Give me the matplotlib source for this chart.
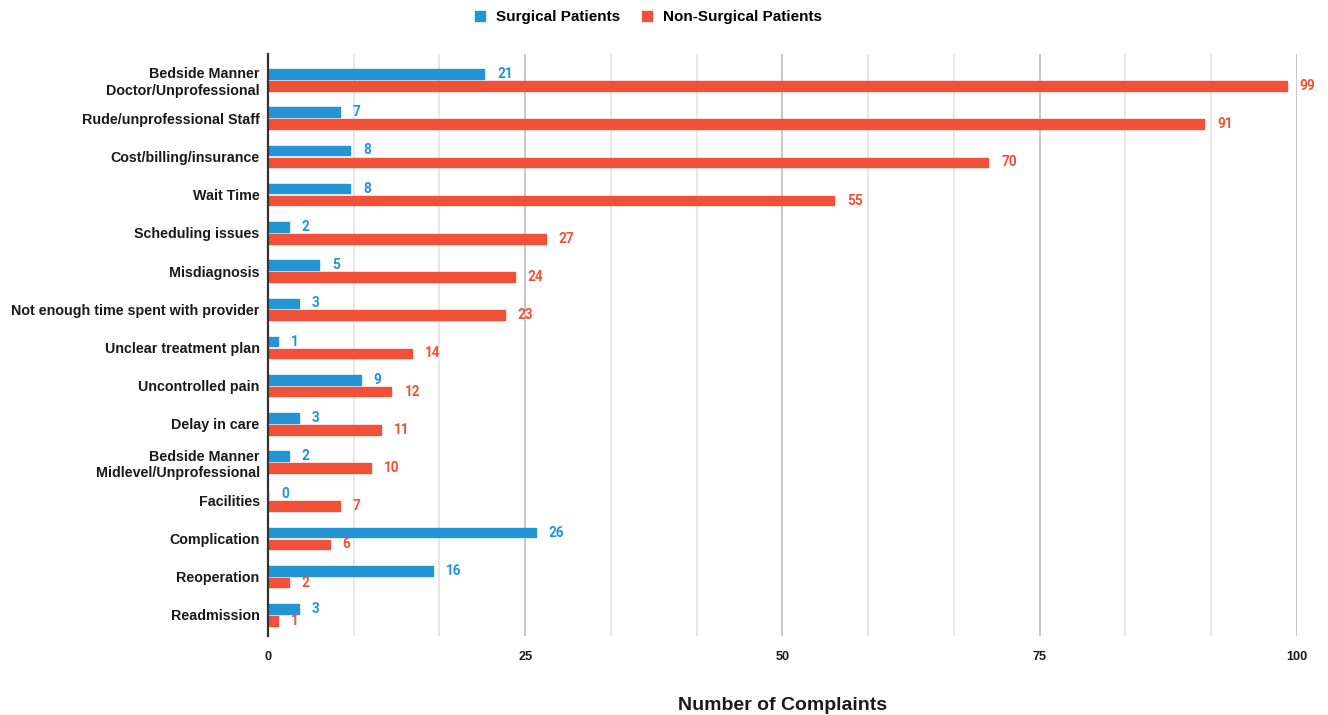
import numpy as np
import matplotlib
matplotlib.use("Agg")
import matplotlib.pyplot as plt
from matplotlib.lines import Line2D

CATEGORIES = [
    "Bedside Manner\nDoctor/Unprofessional",
    "Rude/unprofessional Staff",
    "Cost/billing/insurance",
    "Wait Time",
    "Scheduling issues",
    "Misdiagnosis",
    "Not enough time spent with provider",
    "Unclear treatment plan",
    "Uncontrolled pain",
    "Delay in care",
    "Bedside Manner\nMidlevel/Unprofessional",
    "Facilities",
    "Complication",
    "Reoperation",
    "Readmission",
]
SURGICAL = [21, 7, 8, 8, 2, 5, 3, 1, 9, 3, 2, 0, 26, 16, 3]
NON_SURGICAL = [99, 91, 70, 55, 27, 24, 23, 14, 12, 11, 10, 7, 6, 2, 1]
X_TICKS = [0, 25, 50, 75, 100]

BLUE = "#2394d4"
RED = "#f05138"
LABEL_FONT = "Liberation Sans"
VALUE_FONT = "Roboto"

fig = plt.figure(figsize=(13.28, 7.15), dpi=100)
ax = fig.add_axes([0.2018, 0.1105, 0.7748, 0.814])

y = np.arange(len(CATEGORIES))
h = 0.25
off = 0.155
bar_kw = dict(height=h, linewidth=1, joinstyle="round", zorder=3)
ax.barh(y - off, SURGICAL, color=BLUE, edgecolor=BLUE, **bar_kw)
ax.barh(y + off, NON_SURGICAL, color=RED, edgecolor=RED, **bar_kw)

# value labels just past each bar end
for yi, v in zip(y, SURGICAL):
    ax.annotate(str(v), (v, yi - off), xytext=(13, 0), textcoords="offset pixels",
                va="center", ha="left", color=BLUE, fontsize=9.8,
                fontweight="bold", family=VALUE_FONT, clip_on=False)
for yi, v in zip(y, NON_SURGICAL):
    ax.annotate(str(v), (v, yi + off), xytext=(13, 0), textcoords="offset pixels",
                va="center", ha="left", color=RED, fontsize=9.8,
                fontweight="bold", family=VALUE_FONT, clip_on=False)

ax.set_xlim(0, 100)
ax.set_ylim(14.55, -0.68)
ax.set_yticks(y)
ax.set_yticklabels(CATEGORIES, fontsize=10.3, fontweight="bold", family=LABEL_FONT,
                   color="#1a1a1a", linespacing=1.2)
ax.set_xticks(X_TICKS)
ax.set_xticklabels([str(t) for t in X_TICKS], fontsize=9.2, fontweight="bold",
                   family=LABEL_FONT, color="#1a1a1a")
ax.set_xticks(np.arange(0, 100.01, 25 / 3), minor=True)
ax.tick_params(axis="both", which="both", length=0)
ax.tick_params(axis="x", pad=11)
ax.tick_params(axis="y", pad=6)

ax.grid(axis="x", which="minor", color="#e3e3e3", linewidth=1.2, zorder=0)
ax.grid(axis="x", which="major", color="#c8c8c8", linewidth=1.4, zorder=0)
ax.grid(axis="y", visible=False)

for side in ("top", "right", "bottom"):
    ax.spines[side].set_visible(False)
ax.spines["left"].set_color("#333333")
ax.spines["left"].set_linewidth(1.6)
ax.spines["left"].set_zorder(4)

fig.text(0.5893, 1 - 706 / 715, "Number of Complaints", ha="center", va="center",
         fontsize=14, fontweight="bold", family=LABEL_FONT, color="#1a1a1a")

handles = [
    Line2D([], [], marker="s", linestyle="none", markersize=7.5, color=BLUE),
    Line2D([], [], marker="s", linestyle="none", markersize=7.5, color=RED),
]
fig.legend(handles, ["Surgical Patients", "Non-Surgical Patients"], loc="center",
           bbox_to_anchor=(648 / 1328, 1 - 17 / 715), ncol=2, frameon=False,
           prop={"family": LABEL_FONT, "weight": "bold", "size": 11},
           handletextpad=0.6, columnspacing=1.4, handlelength=0.8)

fig.savefig("out.png", dpi=100)
